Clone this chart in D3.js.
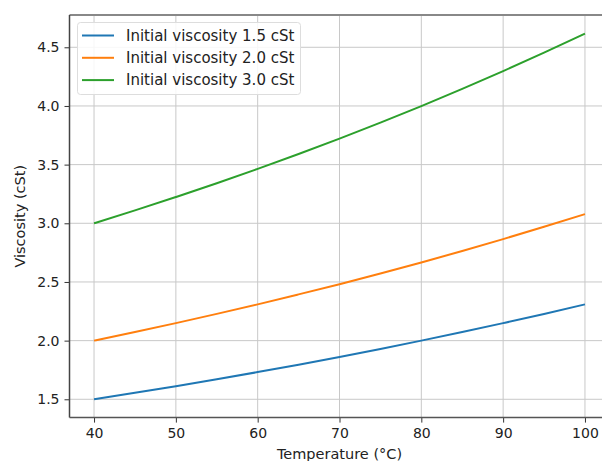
<!DOCTYPE html>
<html><head><meta charset="utf-8">
<script src="https://cdn.jsdelivr.net/npm/d3@7"></script>
<style>body{margin:0;background:#fff}svg{display:block}text{font-family:"DejaVu Sans",sans-serif}</style>
</head><body><svg id="c" width="602" height="461"></svg>
<script>
const temperatures = [40,45,50,55,60,65,70,75,80,85,90,95,100];
const visc15 = [1.500,1.555,1.612,1.671,1.732,1.795,1.861,1.929,2.000,2.073,2.149,2.227,2.309];
const visc20 = [2.000,2.073,2.149,2.228,2.309,2.394,2.481,2.572,2.666,2.764,2.865,2.970,3.078];
const visc30 = [3.000,3.110,3.224,3.341,3.464,3.590,3.722,3.858,3.999,4.145,4.297,4.454,4.617];
const seriesNames = ["Initial viscosity 1.5 cSt","Initial viscosity 2.0 cSt","Initial viscosity 3.0 cSt"];
const colors = ["#1f77b4","#ff7f0e","#2ca02c"];
const xTicks = [40,50,60,70,80,90,100];
const yTicks = [1.5,2.0,2.5,3.0,3.5,4.0,4.5];

const svg = d3.select("#c");
const L = 69.5, R = 609.5, T = 14.9, B = 417.6;
const x = d3.scaleLinear().domain([37,103]).range([L,R]);
const y = d3.scaleLinear().domain([1.344,4.776]).range([B,T]);

// grid
const g = svg.append("g");
g.selectAll(".vg").data(xTicks).join("line")
  .attr("x1",d=>x(d)).attr("x2",d=>x(d)).attr("y1",T).attr("y2",B)
  .attr("stroke","#c8c8c8").attr("stroke-width",1);
g.selectAll(".hg").data(yTicks).join("line")
  .attr("y1",d=>y(d)).attr("y2",d=>y(d)).attr("x1",L).attr("x2",R)
  .attr("stroke","#c8c8c8").attr("stroke-width",1);

// lines
const all = [visc15, visc20, visc30];
const line = d3.line().x((d,i)=>x(temperatures[i])).y(d=>y(d)).curve(d3.curveMonotoneX);
all.forEach((s,i)=>{
  svg.append("path").datum(s).attr("d",line).attr("fill","none")
    .attr("stroke",colors[i]).attr("stroke-width",2);
});

// axes
const xa = svg.append("g").attr("transform",`translate(0,${B})`)
  .call(d3.axisBottom(x).tickValues(xTicks).tickSize(5).tickPadding(5).tickFormat(d3.format("d")));
const ya = svg.append("g").attr("transform",`translate(${L},0)`)
  .call(d3.axisLeft(y).tickValues(yTicks).tickSize(5).tickPadding(5).tickFormat(d3.format(".1f")));
[xa,ya].forEach(a=>{
  a.select(".domain").remove();
  a.selectAll("line").attr("stroke","#333").attr("stroke-width",1);
  a.selectAll("text").attr("font-size",14).attr("fill","#222").attr("font-family","DejaVu Sans");
});
// spines
svg.append("line").attr("x1",L).attr("x2",R).attr("y1",T).attr("y2",T).attr("stroke","#888").attr("stroke-width",2);
svg.append("line").attr("x1",L).attr("x2",L).attr("y1",T).attr("y2",B).attr("stroke","#444").attr("stroke-width",1.5);
svg.append("line").attr("x1",L).attr("x2",R).attr("y1",B).attr("y2",B).attr("stroke","#555").attr("stroke-width",1.5);

// labels
svg.append("text").attr("x",(L+R)/2).attr("y",459).attr("text-anchor","middle")
  .attr("font-size",14.5).attr("fill","#222").text("Temperature (°C)");
svg.append("text").attr("transform",`translate(25,${(T+B)/2}) rotate(-90)`).attr("text-anchor","middle")
  .attr("font-size",14.5).attr("fill","#222").text("Viscosity (cSt)");

// legend
const lg = svg.append("g");
lg.append("rect").attr("x",77.5).attr("y",22.5).attr("width",223).attr("height",72).attr("rx",3)
  .attr("fill","#fff").attr("fill-opacity",0.85).attr("stroke","#ddd");
seriesNames.forEach((n,i)=>{
  const yy = 35.5 + i*22.3;
  lg.append("line").attr("x1",82).attr("x2",114).attr("y1",yy).attr("y2",yy).attr("stroke",colors[i]).attr("stroke-width",2);
  lg.append("text").attr("x",126).attr("y",yy+5.3).attr("font-size",15).attr("fill","#222").text(n);
});
</script></body></html>
